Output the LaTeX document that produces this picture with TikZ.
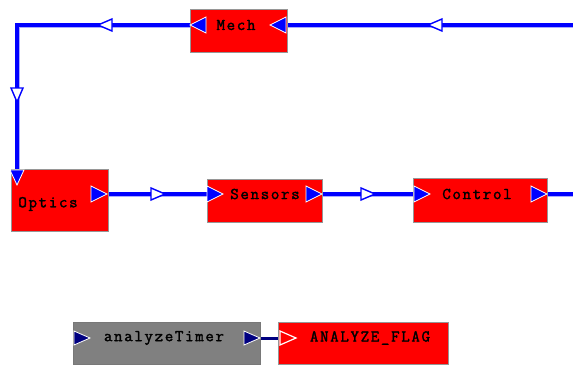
\documentclass[tikz,border=0pt]{standalone}
\usepackage{fontspec}
\newfontfamily\boxfont{Latin Modern Mono}[LetterSpace=10, FakeBold=1.8]
\definecolor{wireblue}{RGB}{0,0,255}
\definecolor{halo}{RGB}{170,170,255}
\definecolor{navy}{RGB}{0,0,128}
\definecolor{boxred}{RGB}{255,0,0}
\definecolor{boxgray}{RGB}{128,128,128}
\definecolor{edgegray}{RGB}{150,150,150}
\tikzset{
  redbox/.style={draw=edgegray, line width=1pt, fill=boxred, inner sep=0pt},
  graybox/.style={draw=edgegray!80!black, line width=1pt, fill=boxgray, inner sep=0pt},
  lbl/.style={font=\boxfont\fontsize{16.5pt}{18pt}\selectfont, inner sep=0pt, text=black},
  wire/.style={line width=3.2pt, draw=wireblue},
  wirehalo/.style={line width=5pt, draw=halo},
  navywire/.style={line width=3pt, draw=navy},
  portfill/.style={fill=wireblue, draw=white, line width=0.8pt, line join=miter},
  navyport/.style={fill=navy, draw=white, line width=0.8pt},
  flagport/.style={fill=boxred, draw=white, line width=1.2pt},
  hollow/.style={fill=white, draw=wireblue, line width=1.4pt},
  prtR/.pic={\path[portfill] (-16,-8) -- (0,0) -- (-16,8) -- cycle;},
  prtL/.pic={\path[portfill] (16,-8) -- (0,0) -- (16,8) -- cycle;},
  prtD/.pic={\path[portfill] (-7,-15) -- (0,0) -- (7,-15) -- cycle;},
  nvR/.pic={\path[navyport] (-16,-7) -- (0,0) -- (-16,7) -- cycle;},
  flR/.pic={\path[flagport] (-16,-7) -- (0,0) -- (-16,7) -- cycle;},
  hoR/.pic={\path[hollow] (-14,-6) -- (0,0) -- (-14,6) -- cycle;},
  hoL/.pic={\path[hollow] (14,-6) -- (0,0) -- (14,6) -- cycle;},
  hoD/.pic={\path[hollow] (-6,-14) -- (0,0) -- (6,-14) -- cycle;},
}
\begin{document}
\begin{tikzpicture}[x=1pt,y=-1pt]
\useasboundingbox (0,0) rectangle (573,365);
% boxes
\node[redbox, minimum width=97pt, minimum height=43pt] (mech) at (238.5,30.5) {};
\node[redbox, minimum width=97pt, minimum height=62pt] (optics) at (59.5,200) {};
\node[redbox, minimum width=115pt, minimum height=43pt] (sensors) at (264.5,200.5) {};
\node[redbox, minimum width=134pt, minimum height=44pt] (control) at (480,200) {};
\node[graybox, minimum width=187pt, minimum height=42pt] (timer) at (166.5,343) {};
\node[redbox, minimum width=170pt, minimum height=42pt] (flag) at (363,343) {};
% labels
\node[lbl] (mechT) at (236,25) {Mech};
\node[lbl] (opticsT) at (48,204) {Optics};
\node[lbl] (sensorsT) at (265,194) {Sensors};
\node[lbl] (controlT) at (477,194) {Control};
\node[lbl] (timerT) at (164,338) {analyzeTimer};
\node[lbl] (flagT) at (370,338) {ANALYZE\_FLAG};
% coordinates
\coordinate (inR) at (573,25);
\coordinate (outR) at (573,194);
\coordinate (opticsIn) at (17,169);
\coordinate (row) at (0,194);
\coordinate (brow) at (0,338);
% wires (halo then core)
\foreach \s in {wirehalo,wire}{
  \draw[\s] (inR) -- (mech.east |- inR);
  \draw[\s, line join=miter] (mech.west |- inR) -| (opticsIn);
  \draw[\s] (optics.east |- row) -- (sensors.west |- row);
  \draw[\s] (sensors.east |- row) -- (control.west |- row);
  \draw[\s] (control.east |- row) -- (outR);
}
\draw[navywire] (timer.east |- brow) -- (flag.west |- brow);
% ports
\pic at (270,25) {prtL};
\pic at (190,25) {prtL};
\pic at (17,185) {prtD};
\pic at (107,194) {prtR};
\pic at (223,194) {prtR};
\pic at (322,194) {prtR};
\pic at (430,194) {prtR};
\pic at (547,194) {prtR};
\pic at (90,338) {nvR};
\pic at (260,338) {nvR};
\pic at (296,338) {flR};
% hollow arrows
\pic at (98,25) {hoL};
\pic at (428,25) {hoL};
\pic at (17,102) {hoD};
\pic at (165,194) {hoR};
\pic at (375,194) {hoR};
\end{tikzpicture}
\end{document}
